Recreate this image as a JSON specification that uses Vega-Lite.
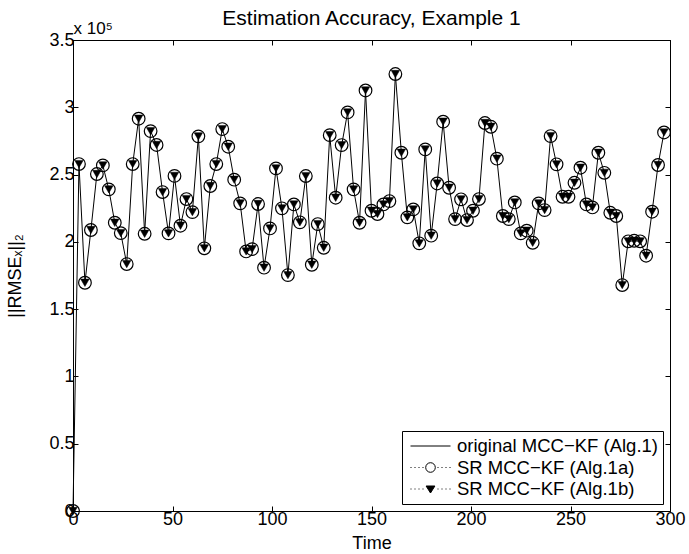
{
  "$schema": "https://vega.github.io/schema/vega-lite/v6.json",
  "width": 597,
  "height": 471,
  "autosize": "none",
  "padding": {"left": 73, "top": 40, "right": 19, "bottom": 43},
  "background": "white",
  "title": {"text": "Estimation Accuracy, Example 1", "fontSize": 21, "fontWeight": "normal", "font": "Liberation Sans", "color": "black", "anchor": "middle", "baseline": "alphabetic", "offset": -27},
  "config": {
    "font": "Liberation Sans",
    "view": {"stroke": "black", "strokeWidth": 1},
    "axis": {"domainColor": "black", "domainWidth": 1, "tickColor": "black", "tickWidth": 1, "tickSize": -5, "labelColor": "black", "titleColor": "black", "labelFontSize": 18, "titleFontSize": 18, "titleFontWeight": "normal", "labelFont": "Liberation Sans", "titleFont": "Liberation Sans", "grid": false, "labelFlush": false, "labelOverlap": false},
    "legend": {"orient": "bottom-right", "offset": 7, "strokeColor": "black", "strokeWidth": 1, "fillColor": "white", "padding": 5, "labelFontSize": 18.5, "labelFont": "Liberation Sans", "labelColor": "black", "labelLimit": 0, "symbolSize": 1600, "clipHeight": 20, "rowPadding": 1.5, "symbolStrokeColor": "black", "symbolStrokeWidth": 1, "symbolOffset": 3, "labelOffset": 6, "cornerRadius": 0}
  },
  "datasets": {
    "rmse": [
      {"time": 0, "original": 0, "sr1a": 0, "sr1b": 0},
      {"time": 3, "original": 257800, "sr1a": 257800, "sr1b": 257800},
      {"time": 6, "original": 169600, "sr1a": 169600, "sr1b": 169600},
      {"time": 9, "original": 208800, "sr1a": 208800, "sr1b": 208800},
      {"time": 12, "original": 250400, "sr1a": 250400, "sr1b": 250400},
      {"time": 15, "original": 256800, "sr1a": 256800, "sr1b": 256800},
      {"time": 18, "original": 239000, "sr1a": 239000, "sr1b": 239000},
      {"time": 21, "original": 214200, "sr1a": 214200, "sr1b": 214200},
      {"time": 24, "original": 206500, "sr1a": 206500, "sr1b": 206500},
      {"time": 27, "original": 183500, "sr1a": 183500, "sr1b": 183500},
      {"time": 30, "original": 257800, "sr1a": 257800, "sr1b": 257800},
      {"time": 33, "original": 291500, "sr1a": 291500, "sr1b": 291500},
      {"time": 36, "original": 206000, "sr1a": 206000, "sr1b": 206000},
      {"time": 39, "original": 282300, "sr1a": 282300, "sr1b": 282300},
      {"time": 42, "original": 272000, "sr1a": 272000, "sr1b": 272000},
      {"time": 45, "original": 237000, "sr1a": 237000, "sr1b": 237000},
      {"time": 48, "original": 206300, "sr1a": 206300, "sr1b": 206300},
      {"time": 51, "original": 249000, "sr1a": 249000, "sr1b": 249000},
      {"time": 54, "original": 212000, "sr1a": 212000, "sr1b": 212000},
      {"time": 57, "original": 231800, "sr1a": 231800, "sr1b": 231800},
      {"time": 60, "original": 222100, "sr1a": 222100, "sr1b": 222100},
      {"time": 63, "original": 278400, "sr1a": 278400, "sr1b": 278400},
      {"time": 66, "original": 195200, "sr1a": 195200, "sr1b": 195200},
      {"time": 69, "original": 241500, "sr1a": 241500, "sr1b": 241500},
      {"time": 72, "original": 257800, "sr1a": 257800, "sr1b": 257800},
      {"time": 75, "original": 283800, "sr1a": 283800, "sr1b": 283800},
      {"time": 78, "original": 270700, "sr1a": 270700, "sr1b": 270700},
      {"time": 81, "original": 246200, "sr1a": 246200, "sr1b": 246200},
      {"time": 84, "original": 228600, "sr1a": 228600, "sr1b": 228600},
      {"time": 87, "original": 192900, "sr1a": 192900, "sr1b": 192900},
      {"time": 90, "original": 194600, "sr1a": 194600, "sr1b": 194600},
      {"time": 93, "original": 228100, "sr1a": 228100, "sr1b": 228100},
      {"time": 96, "original": 180800, "sr1a": 180800, "sr1b": 180800},
      {"time": 99, "original": 210000, "sr1a": 210000, "sr1b": 210000},
      {"time": 102, "original": 254600, "sr1a": 254600, "sr1b": 254600},
      {"time": 105, "original": 224900, "sr1a": 224900, "sr1b": 224900},
      {"time": 108, "original": 175300, "sr1a": 175300, "sr1b": 175300},
      {"time": 111, "original": 227800, "sr1a": 227800, "sr1b": 227800},
      {"time": 114, "original": 214500, "sr1a": 214500, "sr1b": 214500},
      {"time": 117, "original": 248900, "sr1a": 248900, "sr1b": 248900},
      {"time": 120, "original": 183000, "sr1a": 183000, "sr1b": 183000},
      {"time": 123, "original": 213200, "sr1a": 213200, "sr1b": 213200},
      {"time": 126, "original": 195600, "sr1a": 195600, "sr1b": 195600},
      {"time": 129, "original": 279300, "sr1a": 279300, "sr1b": 279300},
      {"time": 132, "original": 232800, "sr1a": 232800, "sr1b": 232800},
      {"time": 135, "original": 271900, "sr1a": 271900, "sr1b": 271900},
      {"time": 138, "original": 296200, "sr1a": 296200, "sr1b": 296200},
      {"time": 141, "original": 239000, "sr1a": 239000, "sr1b": 239000},
      {"time": 144, "original": 214200, "sr1a": 214200, "sr1b": 214200},
      {"time": 147, "original": 312500, "sr1a": 312500, "sr1b": 312500},
      {"time": 150, "original": 223100, "sr1a": 223100, "sr1b": 223100},
      {"time": 153, "original": 220700, "sr1a": 220700, "sr1b": 220700},
      {"time": 156, "original": 227800, "sr1a": 227800, "sr1b": 227800},
      {"time": 159, "original": 230300, "sr1a": 230300, "sr1b": 230300},
      {"time": 162, "original": 324700, "sr1a": 324700, "sr1b": 324700},
      {"time": 165, "original": 266200, "sr1a": 266200, "sr1b": 266200},
      {"time": 168, "original": 218200, "sr1a": 218200, "sr1b": 218200},
      {"time": 171, "original": 224100, "sr1a": 224100, "sr1b": 224100},
      {"time": 174, "original": 198900, "sr1a": 198900, "sr1b": 198900},
      {"time": 177, "original": 268700, "sr1a": 268700, "sr1b": 268700},
      {"time": 180, "original": 204600, "sr1a": 204600, "sr1b": 204600},
      {"time": 183, "original": 243400, "sr1a": 243400, "sr1b": 243400},
      {"time": 186, "original": 289300, "sr1a": 289300, "sr1b": 289300},
      {"time": 189, "original": 240200, "sr1a": 240200, "sr1b": 240200},
      {"time": 192, "original": 216900, "sr1a": 216900, "sr1b": 216900},
      {"time": 195, "original": 231600, "sr1a": 231600, "sr1b": 231600},
      {"time": 198, "original": 216200, "sr1a": 216200, "sr1b": 216200},
      {"time": 201, "original": 223100, "sr1a": 223100, "sr1b": 223100},
      {"time": 204, "original": 231800, "sr1a": 231800, "sr1b": 231800},
      {"time": 207, "original": 288300, "sr1a": 288300, "sr1b": 288300},
      {"time": 210, "original": 285500, "sr1a": 285500, "sr1b": 285500},
      {"time": 213, "original": 261800, "sr1a": 261800, "sr1b": 261800},
      {"time": 216, "original": 219200, "sr1a": 219200, "sr1b": 219200},
      {"time": 219, "original": 216900, "sr1a": 216900, "sr1b": 216900},
      {"time": 222, "original": 229300, "sr1a": 229300, "sr1b": 229300},
      {"time": 225, "original": 206300, "sr1a": 206300, "sr1b": 206300},
      {"time": 228, "original": 208300, "sr1a": 208300, "sr1b": 208300},
      {"time": 231, "original": 199300, "sr1a": 199300, "sr1b": 199300},
      {"time": 234, "original": 228600, "sr1a": 228600, "sr1b": 228600},
      {"time": 237, "original": 223600, "sr1a": 223600, "sr1b": 223600},
      {"time": 240, "original": 278600, "sr1a": 278600, "sr1b": 278600},
      {"time": 243, "original": 257600, "sr1a": 257600, "sr1b": 257600},
      {"time": 246, "original": 233500, "sr1a": 233500, "sr1b": 233500},
      {"time": 249, "original": 233500, "sr1a": 233500, "sr1b": 233500},
      {"time": 252, "original": 243900, "sr1a": 243900, "sr1b": 243900},
      {"time": 255, "original": 255100, "sr1a": 255100, "sr1b": 255100},
      {"time": 258, "original": 227800, "sr1a": 227800, "sr1b": 227800},
      {"time": 261, "original": 225600, "sr1a": 225600, "sr1b": 225600},
      {"time": 264, "original": 266200, "sr1a": 266200, "sr1b": 266200},
      {"time": 267, "original": 251300, "sr1a": 251300, "sr1b": 251300},
      {"time": 270, "original": 221600, "sr1a": 221600, "sr1b": 221600},
      {"time": 273, "original": 219200, "sr1a": 219200, "sr1b": 219200},
      {"time": 276, "original": 167900, "sr1a": 167900, "sr1b": 167900},
      {"time": 279, "original": 200400, "sr1a": 200400, "sr1b": 200400},
      {"time": 282, "original": 200800, "sr1a": 200800, "sr1b": 200800},
      {"time": 285, "original": 200400, "sr1a": 200400, "sr1b": 200400},
      {"time": 288, "original": 189700, "sr1a": 189700, "sr1b": 189700},
      {"time": 291, "original": 222400, "sr1a": 222400, "sr1b": 222400},
      {"time": 294, "original": 257100, "sr1a": 257100, "sr1b": 257100},
      {"time": 297, "original": 281300, "sr1a": 281300, "sr1b": 281300}
    ]
  },
  "data": {"name": "rmse"},
  "resolve": {"axis": {"x": "independent", "y": "independent"}},
  "layer": [
    {
      "mark": {"type": "line", "color": "black", "strokeWidth": 1, "clip": false},
      "encoding": {
        "x": {"field": "time", "type": "quantitative", "scale": {"domain": [0, 300], "nice": false, "zero": false},
              "axis": {"orient": "bottom", "values": [0, 50, 100, 150, 200, 250, 300], "title": "Time", "labelPadding": 4, "titlePadding": 6}},
        "y": {"field": "original", "type": "quantitative", "scale": {"domain": [0, 350000], "nice": false},
              "axis": {"orient": "left", "values": [0, 50000, 100000, 150000, 200000, 250000, 300000, 350000], "labelExpr": "format(datum.value / 100000, '')", "title": "||RMSEₓ||₂", "labelPadding": 4, "titlePadding": 24}}
      }
    },
    {
      "mark": {"type": "point", "shape": "circle", "filled": false, "stroke": "black", "strokeWidth": 1.2, "size": 160, "opacity": 1, "clip": false},
      "encoding": {
        "x": {"field": "time", "type": "quantitative",
              "axis": {"orient": "top", "values": [0, 50, 100, 150, 200, 250, 300], "labels": false, "title": "x 10⁵", "titleX": 0, "titleY": -7, "titleAlign": "left", "titleBaseline": "alphabetic", "titleAngle": 0, "titleFontSize": 17}},
        "y": {"field": "sr1a", "type": "quantitative",
              "axis": {"orient": "right", "values": [0, 50000, 100000, 150000, 200000, 250000, 300000, 350000], "labels": false, "title": null}}
      }
    },
    {
      "mark": {"type": "point", "shape": "triangle-down", "filled": true, "fill": "black", "stroke": "black", "strokeWidth": 0.5, "size": 72, "opacity": 1, "clip": false},
      "encoding": {
        "x": {"field": "time", "type": "quantitative", "axis": null},
        "y": {"field": "sr1b", "type": "quantitative", "axis": null}
      }
    },
    {
      "transform": [
        {"fold": ["original", "sr1a", "sr1b"], "as": ["series", "v"]},
        {"filter": "false"}
      ],
      "mark": {"type": "point", "filled": true, "strokeWidth": 1, "opacity": 1},
      "encoding": {
        "x": {"field": "time", "type": "quantitative", "axis": null},
        "y": {"field": "v", "type": "quantitative", "axis": null},
        "shape": {"field": "series", "type": "nominal",
                  "scale": {"domain": ["original", "sr1a", "sr1b"], "range": ["M-1,0L1,0", "M-1,0h0.05M-0.8,0h0.05M-0.6,0h0.05M-0.4,0h0.05M0.35,0h0.05M0.55,0h0.05M0.75,0h0.05M0.95,0h0.05M0.24,0A0.24,0.24 0 1 1 -0.24,0A0.24,0.24 0 1 1 0.24,0Z", "M-1,0h0.05M-0.8,0h0.05M-0.6,0h0.05M-0.4,0h0.05M0.35,0h0.05M0.55,0h0.05M0.75,0h0.05M0.95,0h0.05M-0.22,-0.15L0.22,-0.15L0,0.2Z"]},
                  "legend": {"title": null, "labelExpr": "datum.value == 'original' ? 'original MCC−KF (Alg.1)' : datum.value == 'sr1a' ? 'SR MCC−KF (Alg.1a)' : 'SR MCC−KF (Alg.1b)'"}},
        "fill": {"field": "series", "type": "nominal",
                 "scale": {"domain": ["original", "sr1a", "sr1b"], "range": ["transparent", "white", "black"]},
                 "legend": {"title": null, "labelExpr": "datum.value == 'original' ? 'original MCC−KF (Alg.1)' : datum.value == 'sr1a' ? 'SR MCC−KF (Alg.1a)' : 'SR MCC−KF (Alg.1b)'"}},
        "stroke": {"field": "series", "type": "nominal",
                 "scale": {"domain": ["original", "sr1a", "sr1b"], "range": ["black", "black", "black"]},
                 "legend": {"title": null, "labelExpr": "datum.value == 'original' ? 'original MCC−KF (Alg.1)' : datum.value == 'sr1a' ? 'SR MCC−KF (Alg.1a)' : 'SR MCC−KF (Alg.1b)'"}}
      }
    }
  ]
}
